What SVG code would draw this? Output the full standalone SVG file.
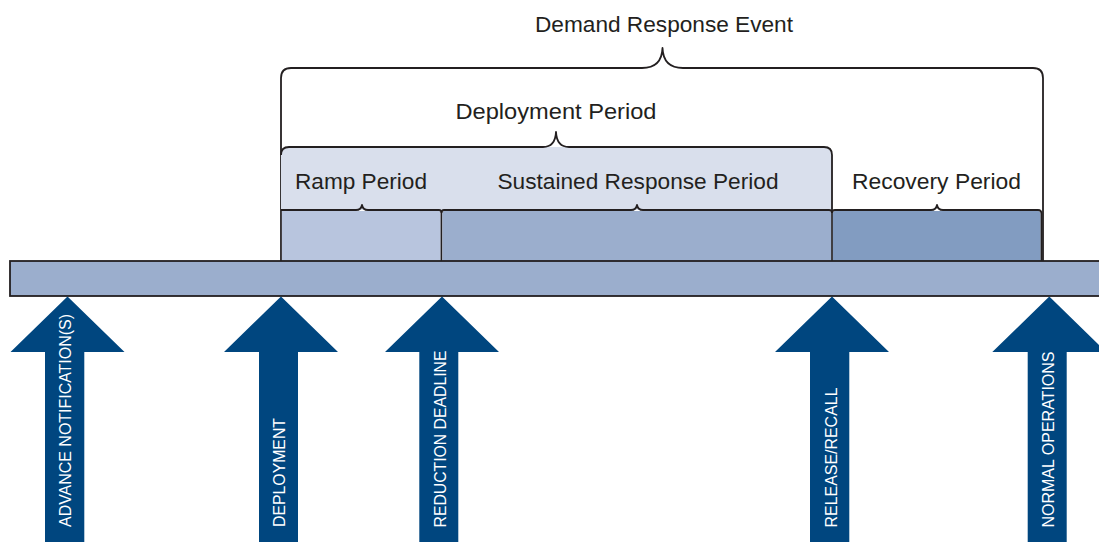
<svg xmlns="http://www.w3.org/2000/svg" width="1099" height="542" viewBox="0 0 1099 542">
  <style>
    .line { fill: none; stroke: #231f20; stroke-width: 1.8; stroke-linejoin: round; }
    .head { font-family: "Liberation Sans", Arial, sans-serif; font-size: 22px; fill: #231f20; }
    .tag { font-family: "Liberation Sans", Arial, sans-serif; font-size: 17px; fill: #ffffff; }
    .arrow { fill: #00467f; }
  </style>

  <!-- Demand response event bracket -->
  <g id="demand-response-event">
    <path class="line" d="M281,261 V78 Q281,68 291,68 H642 C655,68 662,62 662.5,48 C663,62 670,68 683,68 H1033 Q1043,68 1043,78 V261"/>
    <text class="head" x="535" y="31.5" textLength="258" lengthAdjust="spacingAndGlyphs">Demand Response Event</text>
  </g>

  <!-- Deployment period band -->
  <g id="deployment-period">
    <path d="M281,210 V155 Q281,147 289,147 H824 Q832,147 832,155 V210 Z" fill="#d9dfec"/>
    <path class="line" d="M281,155 Q281,147 289,147 H543 C551,147 555.5,142 556,132 C556.5,142 561,147 569,147 H824 Q832,147 832,155 V261"/>
    <text class="head" x="455.5" y="119" textLength="201" lengthAdjust="spacingAndGlyphs">Deployment Period</text>
  </g>

  <!-- Ramp period -->
  <g id="ramp-period">
    <path d="M281.9,210.9 H439 Q440.6,210.9 440.6,213 V261 H281.9 Z" fill="#b8c5de"/>
    <path class="line" d="M281,210 H356 C359,210 361.5,208 362,205 C362.5,208 365,210 368,210 H439 Q441.5,210 441.5,213 V261"/>
    <text class="head" x="295" y="188.5" textLength="132" lengthAdjust="spacingAndGlyphs">Ramp Period</text>
  </g>

  <!-- Sustained response period -->
  <g id="sustained-response-period">
    <path d="M442.4,213 Q442.4,210.9 444,210.9 H829 Q831.1,210.9 831.1,213 V261 H442.4 Z" fill="#9baecd"/>
    <path class="line" d="M441.5,213 Q441.5,210 444,210 H631 C634,210 636.5,208 637,205 C637.5,208 640,210 643,210 H829 Q832,210 832,213"/>
    <text class="head" x="497.5" y="188.5" textLength="281" lengthAdjust="spacingAndGlyphs">Sustained Response Period</text>
  </g>

  <!-- Recovery period -->
  <g id="recovery-period">
    <path d="M832.9,213 Q832.9,210.9 835,210.9 H1038 Q1040.6,210.9 1040.6,214 V261 H832.9 Z" fill="#829cc1"/>
    <path class="line" d="M832,213 Q832,210 835,210 H931 C934,210 936.5,208 937,205 C937.5,208 940,210 943,210 H1038 Q1041.5,210 1041.5,214 V261"/>
    <text class="head" x="852" y="188.5" textLength="169" lengthAdjust="spacingAndGlyphs">Recovery Period</text>
  </g>

  <!-- Timeline bar -->
  <g id="timeline">
    <rect x="10" y="261" width="1100" height="35" fill="#9baecd" stroke="#231f20" stroke-width="1.8"/>
  </g>

  <!-- Milestone arrows pointing at the timeline -->
  <g id="connectors">
    <g id="advance-notification">
      <path class="arrow" d="M67.5,296.5 L124.5,352 H84.3 V542 H45 V352 H10.5 Z"/>
      <text class="tag" transform="translate(70.5,527) rotate(-90)" textLength="213" lengthAdjust="spacingAndGlyphs">ADVANCE NOTIFICATION(S)</text>
    </g>
    <g id="deployment">
      <path class="arrow" d="M281,296.5 L338,352 H298 V542 H259 V352 H224 Z"/>
      <text class="tag" transform="translate(285,527) rotate(-90)" textLength="109" lengthAdjust="spacingAndGlyphs">DEPLOYMENT</text>
    </g>
    <g id="reduction-deadline">
      <path class="arrow" d="M442,296.5 L499,352 H458.3 V542 H419.3 V352 H385 Z"/>
      <text class="tag" transform="translate(445.5,527.5) rotate(-90)" textLength="177" lengthAdjust="spacingAndGlyphs">REDUCTION DEADLINE</text>
    </g>
    <g id="release-recall">
      <path class="arrow" d="M832,296.5 L889,352 H849.3 V542 H810 V352 H775 Z"/>
      <text class="tag" transform="translate(836.5,527.5) rotate(-90)" textLength="140" lengthAdjust="spacingAndGlyphs">RELEASE/RECALL</text>
    </g>
    <g id="normal-operations">
      <path class="arrow" d="M1049.3,296.5 L1106.3,352 H1066.7 V542 H1027.7 V352 H992.3 Z"/>
      <text class="tag" transform="translate(1053.5,527.5) rotate(-90)" textLength="176" lengthAdjust="spacingAndGlyphs">NORMAL OPERATIONS</text>
    </g>
  </g>
</svg>
